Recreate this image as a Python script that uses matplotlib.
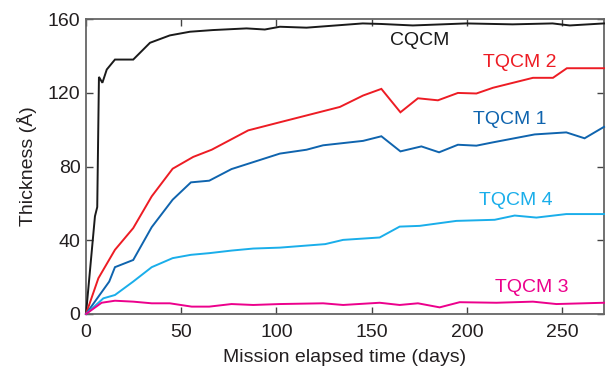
import matplotlib
matplotlib.use("Agg")
import matplotlib.pyplot as plt

plt.rcParams['font.family'] = ['Liberation Sans', 'DejaVu Sans']

# Accumulated contamination thickness (Å) vs. mission elapsed time (days)
cqcm_days = [0, 4.7, 5.9, 6.8, 8.6, 10.9, 15.2, 24.8, 33.6, 44, 54.6, 66.6, 84.3,
             93.9, 101.8, 115.8, 145.3, 155.1, 171.6, 199.7, 224, 245, 254, 272]
cqcm_vals = [0, 53, 58, 128.6, 125.4, 132.6, 138, 138, 147.1, 151.1, 153.1, 154, 154.9,
             154.3, 155.8, 155.3, 157.6, 157.3, 156.5, 157.6, 157.1, 157.6, 156.5, 157.6]

tqcm2_days = [0, 6.5, 15.2, 24.8, 34.5, 45.5, 56.3, 66, 85.2, 101.8, 133.3, 145.5,
              155.1, 165.1, 174.3, 184.8, 195.3, 205, 213.7, 234.7, 245.2, 252.5, 272]
tqcm2_vals = [0, 19.4, 34.8, 46.6, 63.8, 78.8, 85.2, 89.1, 99.6, 104, 112.3, 118.5,
              122.1, 109.4, 117, 115.9, 119.9, 119.6, 122.7, 128.1, 128.1, 133.3, 133.3]

tqcm1_days = [0, 12.2, 15.2, 24.8, 34.5, 45.5, 55.1, 64.7, 76.4, 101.8, 115.8, 124.5,
              145.5, 155.1, 165.1, 176.1, 185.4, 195.3, 205, 213.7, 235.6, 252.2, 261.8, 272]
tqcm1_vals = [0, 17.6, 25.4, 29.3, 47.1, 62, 71.4, 72.3, 78.6, 87, 89.1, 91.5,
              93.9, 96.4, 88.2, 90.9, 87.7, 91.8, 91.3, 93.1, 97.4, 98.5, 95.3, 101.5]

tqcm4_days = [0, 9.1, 15.2, 24.8, 34.5, 45.5, 55.1, 64.7, 76.4, 87.8, 101.8, 125.6,
              135, 154.2, 164.7, 175.2, 194.5, 214.6, 225.1, 236.5, 252.2, 272]
tqcm4_vals = [0, 8.5, 10.3, 17.6, 25.4, 30.3, 32.1, 33, 34.4, 35.5, 36, 37.9,
              40.2, 41.5, 47.4, 47.8, 50.5, 51.1, 53.4, 52.3, 54.2, 54.2]

tqcm3_days = [0, 8.2, 15.2, 24.8, 34.5, 44, 55.5, 64.7, 76.4, 87.8, 101.8, 124.5,
              135, 154.2, 164.7, 174.3, 185.7, 196.2, 215.5, 234.7, 247, 272]
tqcm3_vals = [0, 6.1, 7.2, 6.7, 5.8, 5.8, 4, 4, 5.4, 4.9, 5.4, 5.8,
              4.9, 6.1, 4.9, 5.8, 3.6, 6.4, 6.1, 6.7, 5.4, 6.1]

series = [
    ("CQCM", cqcm_days, cqcm_vals, "#1a1a1a", (175.2, 148.5)),
    ("TQCM 2", tqcm2_days, tqcm2_vals, "#ed1c24", (227.5, 136.5)),
    ("TQCM 1", tqcm1_days, tqcm1_vals, "#0f64ae", (222.5, 105.5)),
    ("TQCM 4", tqcm4_days, tqcm4_vals, "#1aaeea", (225.5, 61.5)),
    ("TQCM 3", tqcm3_days, tqcm3_vals, "#ec008c", (234.2, 14.4)),
]

fig = plt.figure(figsize=(6.06, 3.69), dpi=100)
ax = fig.add_axes([86 / 606, 1 - 314 / 369, (604 - 86) / 606, (314 - 19) / 369])

for name, d, v, c, (lx, ly) in series:
    ax.plot(d, v, color=c, lw=1.4, solid_joinstyle='miter', clip_on=False, zorder=3)
    ax.text(lx, ly, name, color=c, fontsize=14, ha='center', va='center')

ax.set_xlim(0, 272)
ax.set_ylim(0, 160)
ax.set_xticks([0, 50, 100, 150, 200, 250])
ax.set_yticks([0, 40, 80, 120, 160])
ax.tick_params(direction='in', length=5, width=1, color='#444444',
               top=True, right=True, labelsize=14, labelcolor='#231f20')
ax.tick_params(axis='x', pad=7)
ax.tick_params(axis='y', pad=4)
for s in ax.spines.values():
    s.set_color('#666666')
    s.set_linewidth(1.3)

ax.set_xlabel('Mission elapsed time (days)', fontsize=14, color='#231f20', labelpad=6)
ax.set_ylabel('Thickness (Å)', fontsize=14, color='#231f20', labelpad=8)

fig.savefig('out.png', dpi=100)
